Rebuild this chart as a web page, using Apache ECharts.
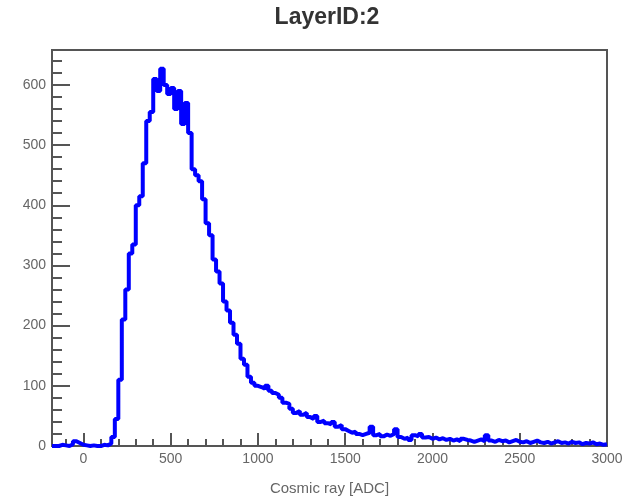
<!DOCTYPE html>
<html>
<head>
<meta charset="utf-8">
<script src="https://cdn.jsdelivr.net/npm/echarts@6/dist/echarts.min.js"></script>
<style>
html,body{margin:0;padding:0;background:#fff;}
#c{width:631px;height:501px;}
</style>
</head>
<body>
<div id="c"></div>
<script>
var title = "LayerID:2";
var xTitle = "Cosmic ray [ADC]";
var binStart = -180;
var binWidth = 20;
var counts = [
  0,0,2,1,0,3,8,5,2,1,0,1,0,0,2,1,4,
  15,45,110,210,260,320,335,400,415,470,540,555,610,590,627,600,585,595,560,590,
  535,570,520,460,450,440,410,370,350,310,290,270,240,225,205,185,170,145,135,115,
  105,100,98,95,100,92,88,85,80,72,70,62,55,58,52,55,48,45,50,40,42,38,36,40,32,35,
  28,25,22,24,20,18,20,22,32,18,20,16,19,17,20,28,15,12,14,10,18,16,20,14,15,12,
  14,11,13,10,12,9,11,8,12,10,9,7,9,11,8,18,9,7,10,8,9,6,8,10,7,6,8,5,7,9,6,5,7,4,
  6,8,5,6,4,7,5,6,3,5,4,6,3,4,2,3
];
var xMin = -180, xMax = 3000;
var yMin = 0, yMax = 658;
var xMajor = [0,500,1000,1500,2000,2500,3000];
var xMinor = [-100,100,200,300,400,600,700,800,900,1100,1200,1300,1400,1600,1700,1800,1900,2100,2200,2300,2400,2600,2700,2800,2900];
var yMajor = [0,100,200,300,400,500,600];
var yMinor = [20,40,60,80,120,140,160,180,220,240,260,280,320,340,360,380,420,440,460,480,520,540,560,580,620,640];

var pts = [];
for (var i = 0; i < counts.length; i++) {
  pts.push([binStart + i * binWidth, counts[i]]);
}
pts.push([binStart + counts.length * binWidth, counts[counts.length - 1]]);

var axisCol = '#555';
var labCol = '#666';
var font = 'Liberation Sans, Arial, Helvetica, sans-serif';
var plain = function (v) { return String(v); };

var chart = echarts.init(document.getElementById('c'));
chart.setOption({
  animation: false,
  graphic: [{
    type: 'text', x: 327, y: 18, silent: true,
    style: {text: title, font: 'bold 23px ' + font, fill: '#333', textAlign: 'center', textVerticalAlign: 'middle'}
  }],
  grid: {left: 52, right: 24, top: 50, bottom: 49, show: true, borderColor: axisCol, borderWidth: 2, backgroundColor: '#fff'},
  xAxis: [{
    type: 'value', min: xMin, max: xMax,
    name: xTitle, nameLocation: 'middle', nameGap: 35,
    nameTextStyle: {fontFamily: font, fontSize: 15, color: labCol},
    axisLine: {show: true, onZero: false, lineStyle: {color: axisCol, width: 2}},
    axisTick: {show: true, inside: true, length: 13, customValues: xMajor, lineStyle: {color: axisCol, width: 2}},
    axisLabel: {customValues: xMajor, formatter: plain, fontFamily: font, fontSize: 14, color: labCol, margin: 6},
    splitLine: {show: false}
  }, {
    type: 'value', min: xMin, max: xMax, position: 'bottom',
    axisLine: {show: false, onZero: false},
    axisTick: {show: true, inside: true, length: 7, customValues: xMinor, lineStyle: {color: axisCol, width: 2}},
    axisLabel: {show: false, customValues: xMinor},
    splitLine: {show: false}
  }],
  yAxis: [{
    type: 'value', min: yMin, max: yMax,
    axisLine: {show: true, onZero: false, lineStyle: {color: axisCol, width: 2}},
    axisTick: {show: true, inside: true, length: 18, customValues: yMajor, lineStyle: {color: axisCol, width: 2}},
    axisLabel: {customValues: yMajor, formatter: plain, fontFamily: font, fontSize: 14, color: labCol, margin: 6},
    splitLine: {show: false}
  }, {
    type: 'value', min: yMin, max: yMax, position: 'left',
    axisLine: {show: false, onZero: false},
    axisTick: {show: true, inside: true, length: 10, customValues: yMinor, lineStyle: {color: axisCol, width: 2}},
    axisLabel: {show: false, customValues: yMinor},
    splitLine: {show: false}
  }],
  series: [{
    type: 'line', xAxisIndex: 0, yAxisIndex: 0,
    data: pts, step: 'end', symbol: 'none',
    lineStyle: {color: '#0000ff', width: 4},
    z: 5
  }]
});
</script>
</body>
</html>
